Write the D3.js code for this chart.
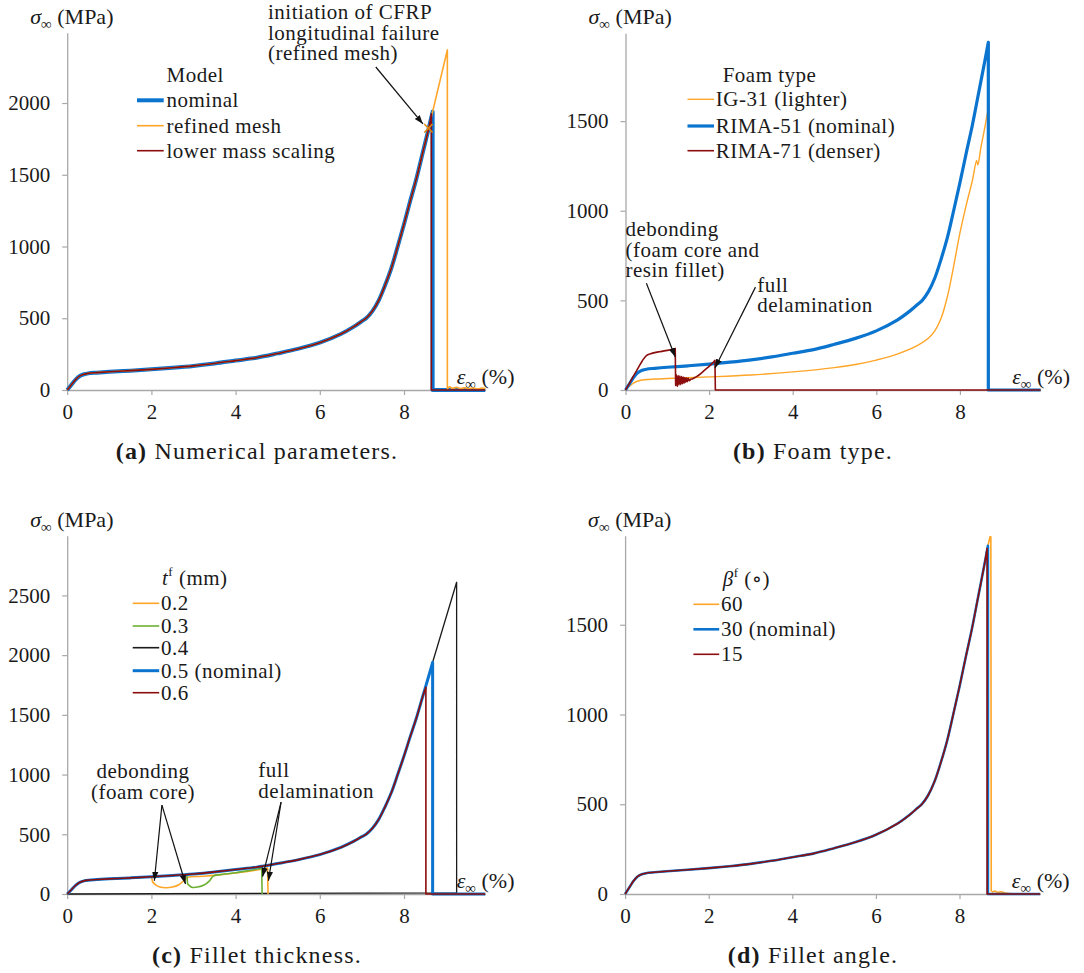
<!DOCTYPE html>
<html>
<head>
<meta charset="utf-8">
<script src="https://cdn.jsdelivr.net/npm/d3@7"></script>
<style>
  body { margin: 0; background: #fff; }
  text { font-family: "Liberation Serif", "DejaVu Serif", serif; fill: #1a1a1a; }
</style>
</head>
<body>
<svg id="fig" width="1084" height="973"></svg>
<script>
// ---- data (strain in %, stress in MPa) ----
const xEnd = 9.93;
const xTicks = [0, 2, 4, 6, 8];
const yTicksA = [0, 500, 1000, 1500, 2000];
const yTicksB = [0, 500, 1000, 1500];
const yTicksC = [0, 500, 1000, 1500, 2000, 2500];
const yTicksD = [0, 500, 1000, 1500];

// nominal model, shared by all four panels
const nominalStrain = [0, 0.1, 0.2, 0.3, 0.4, 0.5, 0.7, 1.0, 1.5, 2.0, 2.5, 3.0, 3.5, 4.0, 4.5, 5.0, 5.5, 6.0, 6.5, 6.8, 7.0, 7.1, 7.25, 7.4, 7.55, 7.7, 7.85, 8.0, 8.15, 8.3, 8.45, 8.6, 8.68];
const nominalStress = [0, 36, 72, 98, 110, 116, 121, 127, 135, 144, 155, 168, 185, 205, 225, 255, 288, 330, 390, 440, 480, 500, 550, 625, 730, 850, 1000, 1155, 1320, 1480, 1660, 1840, 1940];
const nominalTail = [[8.68, 0], [9.93, 0]];

// (a) numerical parameters
const refinedRise = [[8.68, 1940], [9.03, 2370]];
const refinedNoise = [[9.03, 8], [9.08, 22], [9.15, 12], [9.25, 18], [9.35, 10], [9.45, 16], [9.55, 9], [9.65, 14], [9.75, 8], [9.85, 13], [9.93, 10]];
const lowerMassPeak = [[8.65, 1925]];
const lowerMassTail = [[8.65, 0], [9.93, 0]];
const refinedInitiation = [8.58, 1824];

// (b) foam type
const ig31Strain = [0, 0.1, 0.2, 0.3, 0.45, 0.7, 1.0, 2.0, 3.0, 4.0, 5.0, 5.5, 6.0, 6.5, 7.0, 7.25, 7.4, 7.55, 7.7, 7.85, 8.0, 8.15, 8.3, 8.4, 8.43, 8.5, 8.6, 8.69];
const ig31Stress = [0, 22, 40, 50, 57, 61, 64, 73, 84, 101, 125, 142, 167, 200, 250, 290, 330, 400, 520, 690, 875, 1030, 1170, 1280, 1255, 1350, 1470, 1590];
const ig31Tail = [[8.69, 0], [9.93, 0]];
const rima71Strain = [0, 0.1, 0.2, 0.3, 0.4, 0.5, 0.6, 0.8, 1.0, 1.19];
const rima71Stress = [0, 40, 82, 122, 162, 192, 202, 213, 221, 232];
const rima71Noise = [[1.2, 25], [1.22, 85], [1.24, 20], [1.26, 80], [1.28, 28], [1.30, 78], [1.32, 30], [1.34, 75], [1.36, 35], [1.38, 72], [1.40, 38], [1.42, 70], [1.44, 42], [1.46, 68], [1.48, 46], [1.50, 66], [1.53, 52], [1.56, 60], [1.60, 62], [1.65, 68], [1.70, 75], [1.80, 92], [1.90, 112], [2.00, 132], [2.08, 150], [2.14, 166]];
const rima71Tail = [[2.15, 0], [9.93, 0]];

// (c) fillet thickness
const fillet02Dip = [[2.03, 100], [2.12, 72], [2.2, 58], [2.35, 52], [2.5, 58], [2.65, 78], [2.78, 115], [2.85, 138], [3.2, 148], [3.6, 160], [4.0, 176], [4.4, 195], [4.76, 218]];
const fillet02End = [[4.77, 0]];
const fillet03Start = [[2.84, 163]];
const fillet03Dip = [[2.86, 85], [2.92, 65], [2.98, 55], [3.1, 58], [3.25, 75], [3.38, 110], [3.47, 150], [3.7, 165], [4.0, 178], [4.3, 195], [4.62, 215]];
const fillet03End = [[4.63, 0]];
const fillet04Rise = [[8.68, 1940], [9.25, 2610]];
const fillet04Return = [[9.25, 10], [0, 0]];
const fillet06Peak = [[8.52, 1730]];
const fillet06Tail = [[8.52, 0], [9.93, 0]];

// (d) fillet angle
const angle60Peak = [[8.73, 1990], [8.75, 1990]];
const angle60Noise = [[8.76, 18], [8.8, 12], [8.85, 16], [8.9, 9], [9.0, 12], [9.1, 5], [9.2, 2], [9.93, 0]];
const angle15Peak = [[8.66, 1925]];
const angle15Tail = [[8.66, 0], [9.93, 0]];

const legendA = ["nominal", "refined mesh", "lower mass scaling"];
const legendB = ["IG-31 (lighter)", "RIMA-51 (nominal)", "RIMA-71 (denser)"];
const legendC = ["0.2", "0.3", "0.4", "0.5 (nominal)", "0.6"];
const legendD = ["60", "30 (nominal)", "15"];

// ---- helpers ----
const blue = "#0a74cf", orange = "#ffa528", darkred = "#8c0d0d", green = "#6cb033", black = "#1a1a1a";
const zip = (xs, ys) => xs.map((v, i) => [v, ys[i]]);
const nominal = zip(nominalStrain, nominalStress);
const nominalUpTo = e => nominal.filter(d => d[0] <= e);

const svg = d3.select("#fig");
const defs = svg.append("defs");
defs.append("marker")
    .attr("id", "arrow")
    .attr("viewBox", "0 0 10 10")
    .attr("refX", 10).attr("refY", 5)
    .attr("markerWidth", 9).attr("markerHeight", 9)
    .attr("markerUnits", "userSpaceOnUse")
    .attr("orient", "auto")
  .append("path")
    .attr("d", "M0,1.5L10,5L0,8.5Z")
    .attr("fill", "#111");

function makePanel(p) {
    const x = d3.scaleLinear().domain([0, xEnd]).range([p.left, p.left + xEnd * p.unit]);
    const y = d3.scaleLinear().domain([0, p.yMax]).range([p.bottom, p.top]);
    const g = svg.append("g");

    const ax = g.append("g")
        .attr("transform", `translate(0,${p.bottom})`)
        .call(d3.axisBottom(x).tickValues(xTicks).tickSize(5).tickSizeOuter(0).tickPadding(9));
    const ay = g.append("g")
        .attr("transform", `translate(${p.left},0)`)
        .call(d3.axisLeft(y).tickValues(p.yTicks).tickFormat(d3.format("d"))
            .tickSize(5).tickSizeOuter(0).tickPadding(12));
    [ax, ay].forEach(a => {
        a.select(".domain").attr("stroke", "#a8a8a8").attr("stroke-width", 1.3);
        a.selectAll(".tick line").attr("stroke", "#a8a8a8").attr("stroke-width", 1.2);
        a.selectAll(".tick text")
            .attr("font-size", 21)
            .attr("fill", "#1a1a1a");
    });

    // y label
    const yl = g.append("text").attr("x", p.left - 37).attr("y", p.top - 9).attr("font-size", 22);
    yl.append("tspan").attr("font-style", "italic").text("σ");
    yl.append("tspan").attr("font-size", 15).attr("dy", 5).text("∞");
    yl.append("tspan").attr("dy", -5).text(" (MPa)");

    // x label
    const xl = g.append("text").attr("x", x(9.25)).attr("y", p.bottom - 6).attr("font-size", 22);
    xl.append("tspan").attr("font-style", "italic").text("ε");
    xl.append("tspan").attr("font-size", 15).attr("dy", 5).text("∞");
    xl.append("tspan").attr("dy", -5).text(" (%)");

    return {g, x, y};
}

// each part is drawn smooth, parts are joined by straight segments
function drawSeries(panel, parts, color, width) {
    const line = d3.line()
        .x(d => panel.x(d[0]))
        .y(d => panel.y(d[1]))
        .curve(d3.curveCatmullRom.alpha(0.5));
    const d = parts.map((part, i) => {
        if (part.length === 1) {
            return (i ? "L" : "M") + panel.x(part[0][0]) + "," + panel.y(part[0][1]);
        }
        const s = line(part);
        return i ? "L" + s.slice(1) : s;
    }).join("");
    panel.g.append("path")
        .attr("d", d)
        .attr("fill", "none")
        .attr("stroke", color)
        .attr("stroke-width", width)
        .attr("stroke-linejoin", "round");
}

function drawLegend(panel, lg) {
    const t = panel.g.append("text")
        .attr("x", lg.titleX).attr("y", lg.titleY)
        .attr("font-size", 21).attr("letter-spacing", 0.5);
    lg.title(t);
    lg.labels.forEach((lab, i) => {
        panel.g.append("line")
            .attr("x1", lg.lineX[0]).attr("x2", lg.lineX[1])
            .attr("y1", lg.rows[i]).attr("y2", lg.rows[i])
            .attr("stroke", lg.colors[i]).attr("stroke-width", lg.widths[i]);
        panel.g.append("text")
            .attr("x", lg.textX).attr("y", lg.rows[i] + 7)
            .attr("font-size", 21).attr("letter-spacing", 0.5)
            .text(lab);
    });
}

function drawNote(panel, lines, at, anchor) {
    const t = panel.g.append("text")
        .attr("font-size", 21).attr("letter-spacing", 0.5)
        .attr("text-anchor", anchor);
    lines.forEach((s, i) => {
        t.append("tspan")
            .attr("x", panel.x(at[0]))
            .attr("y", panel.y(at[1]) + i * 20.5)
            .text(s);
    });
}

function drawArrow(panel, from, to) {
    panel.g.append("line")
        .attr("x1", panel.x(from[0])).attr("y1", panel.y(from[1]))
        .attr("x2", panel.x(to[0])).attr("y2", panel.y(to[1]))
        .attr("stroke", "#111").attr("stroke-width", 1.2)
        .attr("marker-end", "url(#arrow)");
}

function caption(cx, cy, tag, rest) {
    const t = svg.append("text")
        .attr("x", cx).attr("y", cy)
        .attr("text-anchor", "middle")
        .attr("font-size", 24).attr("letter-spacing", 1.2);
    t.append("tspan").attr("font-weight", "bold").text(tag);
    t.append("tspan").text(" " + rest);
}

// ---- (a) Numerical parameters ----
const pa = makePanel({left: 67.2, unit: 42.1, bottom: 390, top: 32.7, yMax: 2490, yTicks: yTicksA});
drawSeries(pa, [nominal, nominalTail], blue, 4);
drawSeries(pa, [nominal, refinedRise, refinedNoise], orange, 1.6);
drawSeries(pa, [nominalUpTo(8.6).concat(lowerMassPeak), lowerMassTail], darkred, 1.6);
pa.g.append("path")
    .attr("d", d3.symbol(d3.symbolX, 48)())
    .attr("transform", `translate(${pa.x(refinedInitiation[0])},${pa.y(refinedInitiation[1])})`)
    .attr("stroke", "#e08a10").attr("stroke-width", 1.6).attr("fill", "none");
drawLegend(pa, {
    titleX: 166.5, titleY: 82, lineX: [137, 163.7], textX: 166.5, rows: [100.3, 125.7, 150.7],
    labels: legendA, colors: [blue, orange, darkred], widths: [4, 1.6, 1.6],
    title: t => t.text("Model")
});
drawNote(pa, ["initiation of CFRP", "longitudinal failure", "(refined mesh)"], [4.77, 2585], "start");
drawArrow(pa, [7.33, 2251], [8.45, 1854]);
caption(257, 459, "(a)", "Numerical parameters.");

// ---- (b) Foam type ----
const pb = makePanel({left: 625.5, unit: 41.8, bottom: 390, top: 33.3, yMax: 1990, yTicks: yTicksB});
drawSeries(pb, [zip(ig31Strain, ig31Stress), ig31Tail], orange, 1.4);
drawSeries(pb, [nominal, nominalTail], blue, 3.2);
drawSeries(pb, [zip(rima71Strain, rima71Stress), rima71Noise, rima71Tail], darkred, 1.6);
drawLegend(pb, {
    titleX: 722.7, titleY: 82, lineX: [687.5, 714], textX: 715.8, rows: [99.3, 126, 150.7],
    labels: legendB, colors: [orange, blue, darkred], widths: [1.4, 3.2, 1.6],
    title: t => t.text("Foam type")
});
drawNote(pb, ["debonding", "(foam core and", "resin fillet)"], [0, 859], "start");
drawArrow(pb, [0.5, 596], [1.19, 184]);
drawNote(pb, ["full", "delamination"], [3.15, 547], "start");
drawArrow(pb, [3.11, 574], [2.14, 123]);
caption(813, 459, "(b)", "Foam type.");

// ---- (c) Fillet thickness ----
const pc = makePanel({left: 67.2, unit: 42.1, bottom: 894, top: 535.7, yMax: 3000, yTicks: yTicksC});
drawSeries(pc, [nominal, fillet04Rise, fillet04Return], black, 1.3);
drawSeries(pc, [nominalUpTo(2.0), fillet02Dip, fillet02End], orange, 1.6);
drawSeries(pc, [nominalUpTo(2.8).concat(fillet03Start), fillet03Dip, fillet03End], green, 1.6);
drawSeries(pc, [nominal, nominalTail], blue, 3);
drawSeries(pc, [nominalUpTo(8.45).concat(fillet06Peak), fillet06Tail], darkred, 1.6);
drawLegend(pc, {
    titleX: 162, titleY: 585, lineX: [132.7, 159.2], textX: 161, rows: [603.3, 626, 647.7, 670.7, 692.7],
    labels: legendC, colors: [orange, green, black, blue, darkred], widths: [1.6, 1.6, 1.6, 3, 1.6],
    title: t => {
        t.append("tspan").attr("font-style", "italic").text("t");
        t.append("tspan").attr("font-size", 13).attr("dy", -9).text("f");
        t.append("tspan").attr("dy", 9).text(" (mm)");
    }
});
drawNote(pc, ["debonding", "(foam core)"], [1.8, 970], "middle");
drawArrow(pc, [2.25, 744], [2.07, 111]);
drawArrow(pc, [2.25, 744], [2.81, 84]);
drawNote(pc, ["full", "delamination"], [4.54, 978], "start");
drawArrow(pc, [5.08, 769], [4.64, 145]);
drawArrow(pc, [5.08, 769], [4.78, 111]);
caption(257, 963, "(c)", "Fillet thickness.");

// ---- (d) Fillet angle ----
const pd = makePanel({left: 625.1, unit: 41.8, bottom: 894, top: 535.7, yMax: 1996, yTicks: yTicksD});
drawSeries(pd, [nominal, angle60Peak, angle60Noise], orange, 1.6);
drawSeries(pd, [nominal, nominalTail], blue, 2.6);
drawSeries(pd, [nominalUpTo(8.6).concat(angle15Peak), angle15Tail], darkred, 1.6);
drawLegend(pd, {
    titleX: 722.7, titleY: 586, lineX: [693.4, 719.2], textX: 721, rows: [604.3, 629.3, 654.3],
    labels: legendD, colors: [orange, blue, darkred], widths: [1.6, 2.6, 1.6],
    title: t => {
        t.append("tspan").attr("font-style", "italic").text("β");
        t.append("tspan").attr("font-size", 13).attr("dy", -9).text("f");
        t.append("tspan").attr("dy", 9).text(" (∘)");
    }
});
caption(813, 963, "(d)", "Fillet angle.");
</script>
</body>
</html>
